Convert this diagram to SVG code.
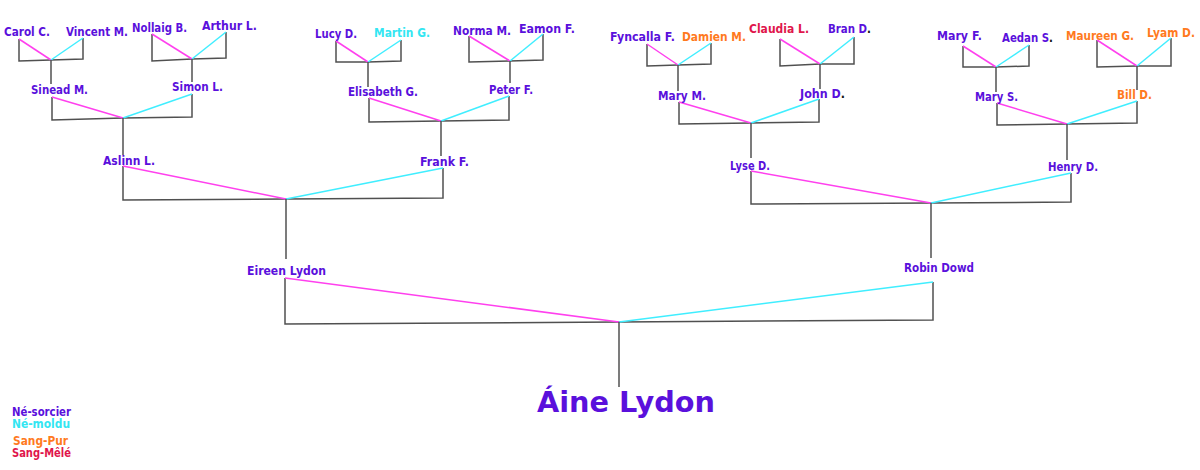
<svg xmlns="http://www.w3.org/2000/svg" width="1200" height="470" viewBox="0 0 1200 470">
<style>
text{font-family:"DejaVu Sans","Liberation Sans",sans-serif;font-weight:bold;font-size:12px;}
.p{fill:#5a10dc}.c{fill:#33e6f2}.o{fill:#ff7a1e}.r{fill:#e0164c}.k{fill:#111}
.big{font-size:28px}
.g{fill:none;stroke:#505050;stroke-width:1.5}
.m{stroke:#ff40ee;stroke-width:1.5}
.y{stroke:#40eeff;stroke-width:1.5}
</style>
<rect width="1200" height="470" fill="#fff"/>
<g id="connectors">
<polyline class="g" points="19,39 19,61 51,60 83,59 83,38"/><line class="m" x1="19" y1="39" x2="51" y2="60"/><line class="y" x1="83" y1="38" x2="51" y2="60"/><line class="g" x1="51" y1="60" x2="51" y2="84"/>
<polyline class="g" points="152,34 152,61 192,59 226,58 226,32"/><line class="m" x1="152" y1="34" x2="192" y2="59"/><line class="y" x1="226" y1="32" x2="192" y2="59"/><line class="g" x1="192" y1="59" x2="192" y2="82"/>
<polyline class="g" points="336,41 336,62 368,62 401,61 401,40"/><line class="m" x1="336" y1="41" x2="368" y2="62"/><line class="y" x1="401" y1="40" x2="368" y2="62"/><line class="g" x1="368" y1="62" x2="368" y2="87"/>
<polyline class="g" points="469,36 469,62 510,61 543,60 543,34"/><line class="m" x1="469" y1="36" x2="510" y2="61"/><line class="y" x1="543" y1="34" x2="510" y2="61"/><line class="g" x1="510" y1="61" x2="510" y2="83"/>
<polyline class="g" points="647,44 647,66 678,65 711,64 711,43"/><line class="m" x1="647" y1="44" x2="678" y2="65"/><line class="y" x1="711" y1="43" x2="678" y2="65"/><line class="g" x1="678" y1="65" x2="678" y2="91"/>
<polyline class="g" points="780,39 780,66 820,64 854,64 854,37"/><line class="m" x1="780" y1="39" x2="820" y2="64"/><line class="y" x1="854" y1="37" x2="820" y2="64"/><line class="g" x1="820" y1="64" x2="820" y2="89"/>
<polyline class="g" points="963,46 963,67 996,67 1029,66 1029,45"/><line class="m" x1="963" y1="46" x2="996" y2="67"/><line class="y" x1="1029" y1="45" x2="996" y2="67"/><line class="g" x1="996" y1="67" x2="996" y2="92"/>
<polyline class="g" points="1097,40 1097,67 1137,66 1171,66 1171,38"/><line class="m" x1="1097" y1="40" x2="1137" y2="66"/><line class="y" x1="1171" y1="38" x2="1137" y2="66"/><line class="g" x1="1137" y1="66" x2="1137" y2="90"/>
<polyline class="g" points="52,97 52,120 123,118 192,117 192,94"/><line class="m" x1="52" y1="97" x2="123" y2="118"/><line class="y" x1="192" y1="94" x2="123" y2="118"/><line class="g" x1="123" y1="118" x2="123" y2="155"/>
<polyline class="g" points="369,98 369,122 441,121 509,120 509,96"/><line class="m" x1="369" y1="98" x2="441" y2="121"/><line class="y" x1="509" y1="96" x2="441" y2="121"/><line class="g" x1="441" y1="121" x2="441" y2="156"/>
<polyline class="g" points="679,102 679,124 751,123 819,122 819,99"/><line class="m" x1="679" y1="102" x2="751" y2="123"/><line class="y" x1="819" y1="99" x2="751" y2="123"/><line class="g" x1="751" y1="123" x2="751" y2="158"/>
<polyline class="g" points="997,103 997,125 1067,124 1137,123 1137,101"/><line class="m" x1="997" y1="103" x2="1067" y2="124"/><line class="y" x1="1137" y1="101" x2="1067" y2="124"/><line class="g" x1="1067" y1="124" x2="1067" y2="160"/>
<polyline class="g" points="123,166 123,200 286,199 443,198 443,168"/><line class="m" x1="123" y1="166" x2="286" y2="199"/><line class="y" x1="443" y1="168" x2="286" y2="199"/><line class="g" x1="286" y1="199" x2="286" y2="259"/>
<polyline class="g" points="751,171 751,204 931,203 1071,202 1071,173"/><line class="m" x1="751" y1="171" x2="931" y2="203"/><line class="y" x1="1071" y1="173" x2="931" y2="203"/><line class="g" x1="931" y1="203" x2="931" y2="258"/>
<polyline class="g" points="285,278 285,324 619,322 933,320 933,282"/><line class="m" x1="285" y1="278" x2="619" y2="322"/><line class="y" x1="933" y1="282" x2="619" y2="322"/><line class="g" x1="619" y1="322" x2="619" y2="387"/>
</g>
<g id="carol"><text class="p" x="4" y="36" textLength="46" lengthAdjust="spacingAndGlyphs">Carol C.</text></g>
<g id="vincent"><text class="p" x="66" y="36" textLength="62" lengthAdjust="spacingAndGlyphs">Vincent M.</text></g>
<g id="nollaig"><text class="p" x="132" y="32" textLength="55" lengthAdjust="spacingAndGlyphs">Nollaig B.</text></g>
<g id="arthur"><text class="p" x="202" y="30" textLength="55" lengthAdjust="spacingAndGlyphs">Arthur L.</text></g>
<g id="lucy"><text class="p" x="315" y="38" textLength="42" lengthAdjust="spacingAndGlyphs">Lucy D.</text></g>
<g id="martin"><text class="c" x="374" y="37" textLength="56" lengthAdjust="spacingAndGlyphs">Martin G.</text></g>
<g id="norma"><text class="p" x="453" y="35" textLength="58" lengthAdjust="spacingAndGlyphs">Norma M.</text></g>
<g id="eamon"><text class="p" x="519" y="33" textLength="56" lengthAdjust="spacingAndGlyphs">Eamon F.</text></g>
<g id="fyncalla"><text class="p" x="610" y="41" textLength="65" lengthAdjust="spacingAndGlyphs">Fyncalla F.</text></g>
<g id="damien"><text class="o" x="682" y="41" textLength="64" lengthAdjust="spacingAndGlyphs">Damien M.</text></g>
<g id="claudia"><text class="r" x="749" y="33" textLength="60" lengthAdjust="spacingAndGlyphs">Claudia L.</text></g>
<g id="bran"><text class="p" x="828" y="33" textLength="43" lengthAdjust="spacingAndGlyphs">Bran D<tspan class="k">.</tspan></text></g>
<g id="maryf"><text class="p" x="937" y="40" textLength="45" lengthAdjust="spacingAndGlyphs">Mary F.</text></g>
<g id="aedan"><text class="p" x="1002" y="42" textLength="51" lengthAdjust="spacingAndGlyphs">Aedan S<tspan class="k">.</tspan></text></g>
<g id="maureen"><text class="o" x="1066" y="40" textLength="68" lengthAdjust="spacingAndGlyphs">Maureen G.</text></g>
<g id="lyam"><text class="o" x="1147" y="37" textLength="48" lengthAdjust="spacingAndGlyphs">Lyam D.</text></g>
<g id="sinead"><text class="p" x="31" y="94" textLength="57" lengthAdjust="spacingAndGlyphs">Sinead M.</text></g>
<g id="simon"><text class="p" x="172" y="91" textLength="51" lengthAdjust="spacingAndGlyphs">Simon L.</text></g>
<g id="elisabeth"><text class="p" x="348" y="96" textLength="70" lengthAdjust="spacingAndGlyphs">Elisabeth G.</text></g>
<g id="peter"><text class="p" x="489" y="94" textLength="44" lengthAdjust="spacingAndGlyphs">Peter F.</text></g>
<g id="marym"><text class="p" x="658" y="100" textLength="48" lengthAdjust="spacingAndGlyphs">Mary M.</text></g>
<g id="john"><text class="p" x="800" y="98" textLength="45" lengthAdjust="spacingAndGlyphs">John D<tspan class="k">.</tspan></text></g>
<g id="marys"><text class="p" x="975" y="101" textLength="43" lengthAdjust="spacingAndGlyphs">Mary S.</text></g>
<g id="bill"><text class="o" x="1117" y="99" textLength="35" lengthAdjust="spacingAndGlyphs">Bill D.</text></g>
<g id="aslinn"><text class="p" x="103" y="165" textLength="52" lengthAdjust="spacingAndGlyphs">Aslinn L.</text></g>
<g id="frank"><text class="p" x="420" y="166" textLength="49" lengthAdjust="spacingAndGlyphs">Frank F.</text></g>
<g id="lyse"><text class="p" x="730" y="170" textLength="40" lengthAdjust="spacingAndGlyphs">Lyse D.</text></g>
<g id="henry"><text class="p" x="1048" y="171" textLength="50" lengthAdjust="spacingAndGlyphs">Henry D.</text></g>
<g id="eireen"><text class="p" x="247" y="275" textLength="79" lengthAdjust="spacingAndGlyphs">Eireen Lydon</text></g>
<g id="robin"><text class="p" x="904" y="272" textLength="70" lengthAdjust="spacingAndGlyphs">Robin Dowd</text></g>
<g id="aine"><text class="p big" x="537" y="412" textLength="178" lengthAdjust="spacingAndGlyphs">Áine Lydon</text></g>
<g id="legend">
<text class="p" x="12" y="416" textLength="59" lengthAdjust="spacingAndGlyphs">Né-sorcier</text>
<text class="c" x="12" y="428" textLength="58" lengthAdjust="spacingAndGlyphs">Né-moldu</text>
<text class="o" x="13" y="445" textLength="55" lengthAdjust="spacingAndGlyphs">Sang-Pur</text>
<text class="r" x="12" y="457" textLength="59" lengthAdjust="spacingAndGlyphs">Sang-Mêlé</text>
</g>
</svg>
